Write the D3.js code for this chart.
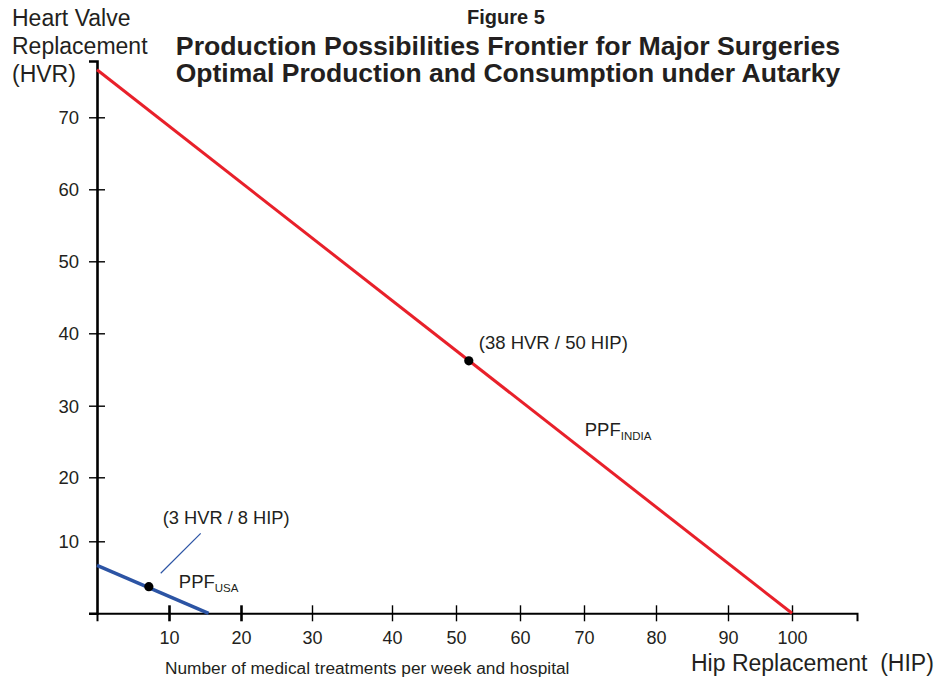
<!DOCTYPE html>
<html lang="en">
<head>
<meta charset="UTF-8">
<title>Figure 5 - Production Possibilities Frontier</title>
<style>
body { margin: 0; background: #fff; }
text { font-family: "Liberation Sans", Arial, Helvetica, sans-serif; fill: #231f20; }
</style>
</head>
<body>
<div id="chart"></div>
<script src="https://d3js.org/d3.v7.min.js"></script>
<script>
// tick labels
const xTicks = [10, 20, 30, 40, 50, 60, 70, 80, 90, 100];
const yTicks = [10, 20, 30, 40, 50, 60, 70];

// PPF end points as [HIP, HVR]
const indiaPPF = [[0, 76.5], [100, 0]];
const usaPPF = [[0, 6.65], [15.5, 0]];

// autarky points [HIP, HVR]
const indiaPoint = [52, 36.2];
const usaPoint = [7.2, 3.7];
const usaLeader = [[8.85, 5.56], [14.4, 11.25]];

const indiaLabel = "(38 HVR / 50 HIP)";
const usaLabel = "(3 HVR / 8 HIP)";

const width = 940, height = 683;
const red = "#e8202a", blue = "#2c54a4";

// the original axis is hand drawn and its tick spacing is uneven,
// so the scales are piecewise linear through the drawn tick marks
const xStops = [0, 10, 20, 30, 40, 50, 60, 70, 80, 90, 100, 110];
const xPx =    [97, 169, 241, 312, 392, 456, 520, 584, 656, 728, 792, 857];
const yStops = [0, 10, 20, 30, 40, 50, 60, 70, 77.7];
const yPx =    [613.3, 541.3, 477.3, 405.7, 333.3, 261.3, 189.3, 117.3, 61];

const x = d3.scaleLinear().domain(xStops).range(xPx);
const y = d3.scaleLinear().domain(yStops).range(yPx);

const svg = d3.select("#chart").append("svg")
  .attr("width", width)
  .attr("height", height);

// x axis
const xAxis = svg.append("g")
  .attr("transform", `translate(0,${y(0)})`)
  .call(d3.axisBottom(x).tickValues(xTicks).tickSizeOuter(0).tickSize(8));
xAxis.select(".domain").attr("stroke", "#000").attr("stroke-width", 2);
xAxis.selectAll(".tick line")
  .attr("y1", -8).attr("y2", 8)
  .attr("stroke", "#000")
  .attr("stroke-width", d => d <= 20 ? 2.6 : 1.4);
xAxis.selectAll(".tick text")
  .attr("y", 31).attr("dy", 0)
  .style("font-size", "18px")
  .attr("fill", "#231f20");

// y axis
const yAxis = svg.append("g")
  .attr("transform", `translate(${x(0)},0)`)
  .call(d3.axisLeft(y).tickValues(yTicks).tickSizeOuter(0).tickSize(8));
yAxis.select(".domain").attr("stroke", "#000").attr("stroke-width", 2.6);
yAxis.selectAll(".tick line")
  .attr("x1", -8).attr("x2", 8)
  .attr("stroke", "#000")
  .attr("stroke-width", 1.4);
yAxis.selectAll(".tick text")
  .attr("x", -18).attr("dy", "0.36em")
  .style("font-size", "18.5px")
  .attr("fill", "#231f20");

// frontiers
const line = d3.line().x(d => x(d[0])).y(d => y(d[1]));

svg.append("path")
  .datum(indiaPPF)
  .attr("d", line)
  .attr("fill", "none")
  .attr("stroke", red)
  .attr("stroke-width", 3);

svg.append("path")
  .datum(usaPPF)
  .attr("d", line)
  .attr("fill", "none")
  .attr("stroke", blue)
  .attr("stroke-width", 3.5);

svg.append("path")
  .datum(usaLeader)
  .attr("d", line)
  .attr("fill", "none")
  .attr("stroke", blue)
  .attr("stroke-width", 1.2);

// autarky points
svg.selectAll("circle.pt")
  .data([indiaPoint, usaPoint])
  .join("circle")
  .attr("class", "pt")
  .attr("cx", d => x(d[0]))
  .attr("cy", d => y(d[1]))
  .attr("r", 4.6)
  .attr("fill", "#000");

svg.append("text")
  .attr("x", x(indiaPoint[0]) + 10)
  .attr("y", y(indiaPoint[1]) - 12)
  .style("font-size", "18.5px")
  .text(indiaLabel);

svg.append("text")
  .attr("x", x(usaLeader[1][0]) - 38)
  .attr("y", y(usaLeader[1][1]) - 9)
  .style("font-size", "18.3px")
  .text(usaLabel);

// PPF labels with subscripts
function ppfLabel(px, py, sub) {
  const t = svg.append("text")
    .attr("x", px).attr("y", py)
    .style("font-size", "18.5px");
  t.append("tspan").text("PPF");
  t.append("tspan").attr("dy", 4).style("font-size", "11.5px").text(sub);
}
ppfLabel(x(usaPoint[0]) + 30, y(usaPoint[1]) + 1, "USA");
ppfLabel(x(70.1), y(25.8), "INDIA");

// axis titles
const yTitle = svg.append("text").style("font-size", "23px");
["Heart Valve", "Replacement", "(HVR)"].forEach((s, i) => {
  yTitle.append("tspan").attr("x", 12).attr("y", 25.5 + i * 28).text(s);
});

svg.append("text")
  .attr("x", 691).attr("y", 671)
  .style("font-size", "23px")
  .style("white-space", "pre")
  .text("Hip Replacement  (HIP)");

svg.append("text")
  .attr("x", 165).attr("y", 674)
  .style("font-size", "17.3px")
  .text("Number of medical treatments per week and hospital");

// title
svg.append("text")
  .attr("x", 506).attr("y", 24)
  .attr("text-anchor", "middle")
  .style("font-size", "20px")
  .style("font-weight", "bold")
  .text("Figure 5");

[["Production Possibilities Frontier for Major Surgeries", 26.7],
 ["Optimal Production and Consumption under Autarky", 26.5]].forEach(([s, fs], i) => {
  svg.append("text")
    .attr("x", 508).attr("y", 55 + i * 27)
    .attr("text-anchor", "middle")
    .style("font-size", fs + "px")
    .style("font-weight", "bold")
    .text(s);
});
</script>
</body>
</html>
